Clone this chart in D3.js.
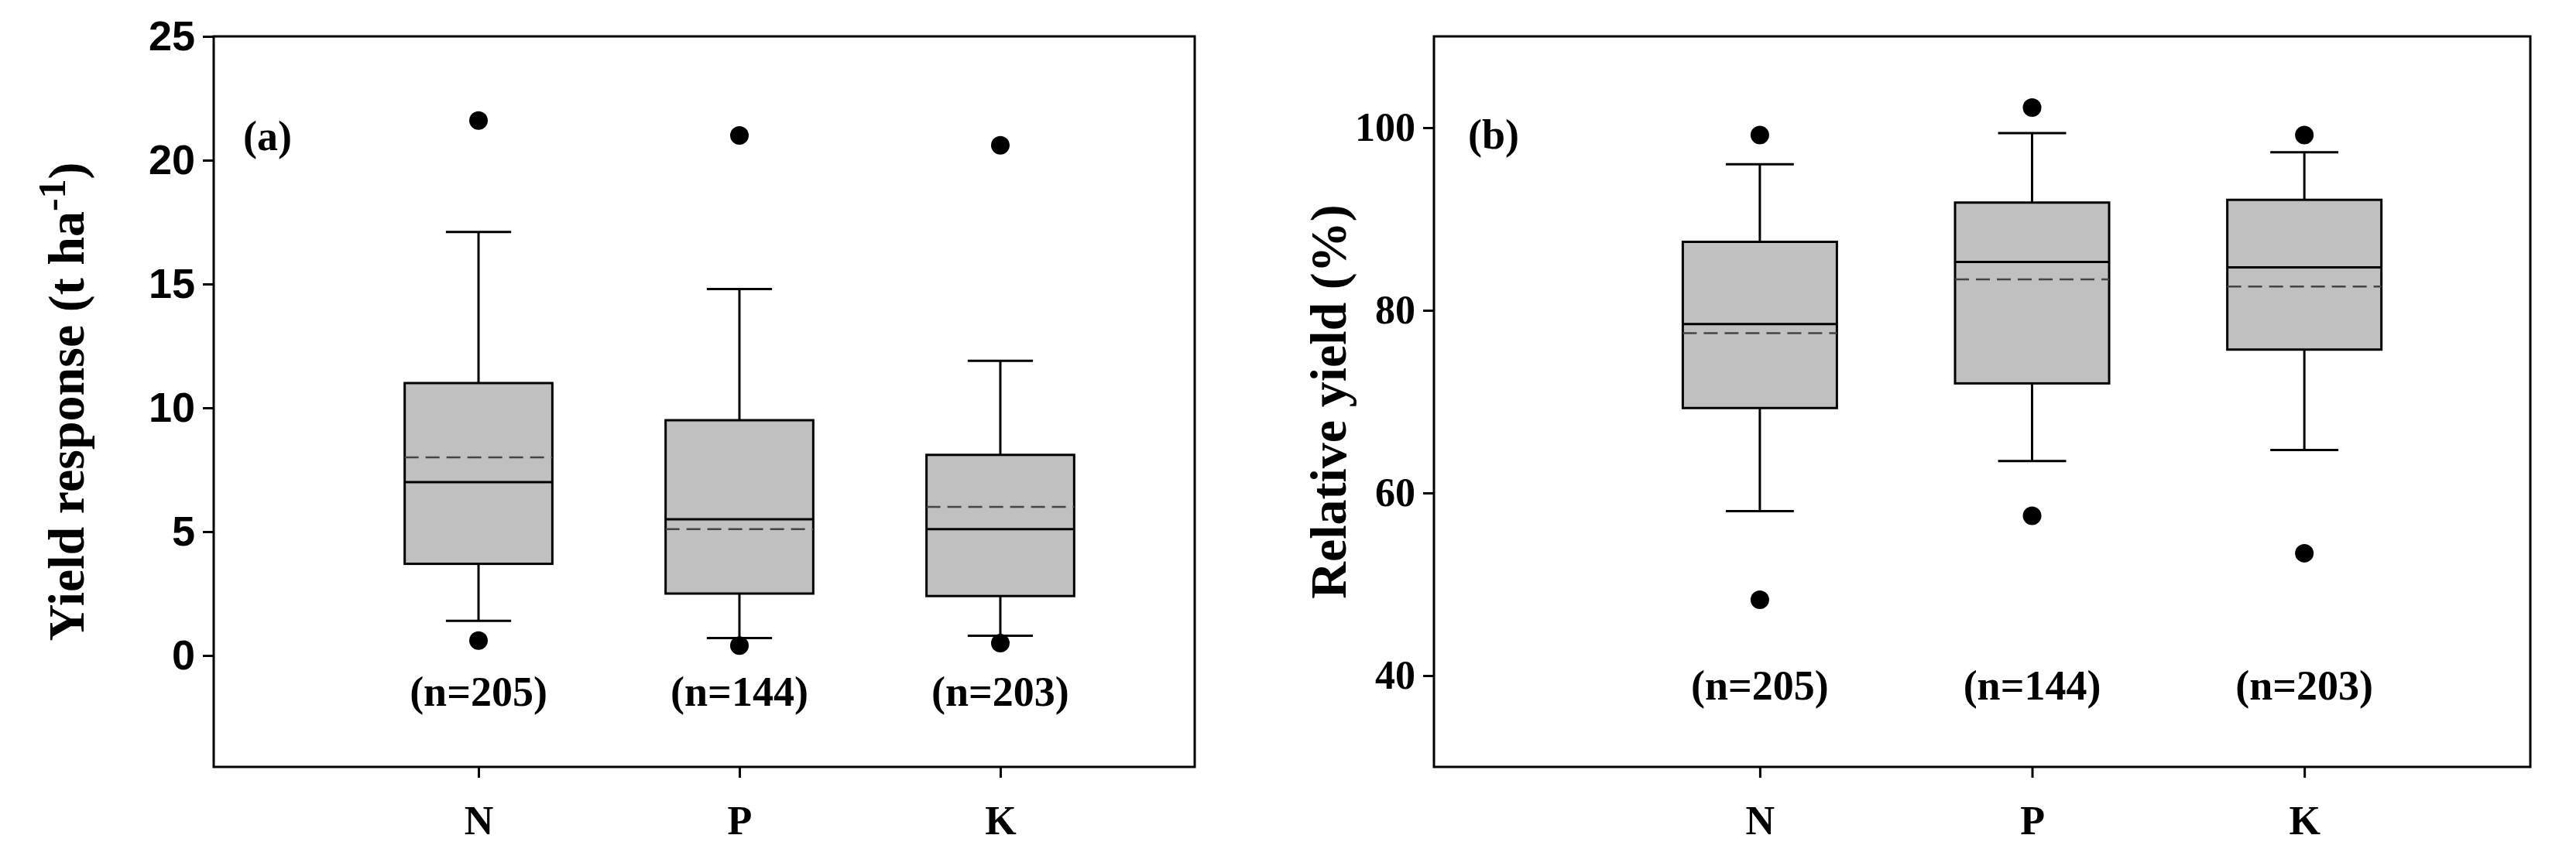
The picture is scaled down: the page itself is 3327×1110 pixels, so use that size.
<!DOCTYPE html><html><head><meta charset="utf-8">
<script src="https://cdn.jsdelivr.net/npm/d3@7"></script>
<style>body{margin:0;background:#fff}</style></head><body>
<svg id="c" width="3327" height="1110"></svg>
<script>
const categories=["N","P","K"];
const nLabels=["(n=205)","(n=144)","(n=203)"];
// panel a: yield response (t ha-1)
const aWhiskLow=[1.4,0.7,0.8], aQ1=[3.7,2.5,2.4], aMedian=[7.0,5.5,5.1], aMean=[8.0,5.1,6.0], aQ3=[11.0,9.5,8.1], aWhiskHigh=[17.1,14.8,11.9];
const aOutHigh=[21.6,21.0,20.6], aOutLow=[0.6,0.4,0.5];
const aTicks=[0,5,10,15,20,25];
// panel b: relative yield (%)
const bWhiskLow=[58,63.5,64.7], bQ1=[69.3,72,75.7], bMedian=[78.5,85.3,84.7], bMean=[77.5,83.4,82.6], bQ3=[87.5,91.8,92.1], bWhiskHigh=[96,99.4,97.3];
const bOutHigh=[99.2,102.2,99.2], bOutLow=[48.3,57.5,53.4];
const bTicks=[40,60,80,100];

const svg=d3.select("#c");
function panel(o){
  const x=d3.scaleLinear().domain(o.xd).range([o.x0,o.x1]);
  const y=d3.scaleLinear().domain(o.yd).range([991,47]);
  const g=svg.append("g");
  g.append("rect").attr("x",o.x0).attr("y",47).attr("width",o.x1-o.x0).attr("height",944).attr("fill","none").attr("stroke","#000").attr("stroke-width",3);
  const ya=g.append("g").attr("transform",`translate(${o.x0},0)`).call(d3.axisLeft(y).tickValues(o.ticks).tickSize(14).tickPadding(10));
  ya.select(".domain").remove();
  ya.selectAll("line").attr("stroke-width",3);
  ya.selectAll("text").attr("font-family",o.tf).attr("font-weight","bold").attr("font-size",o.tfs).attr("fill","#000");
  const xa=g.append("g").attr("transform","translate(0,991)").call(d3.axisBottom(x).tickValues([1,2,3]).tickFormat(i=>categories[i-1]).tickSize(14).tickPadding(36));
  xa.select(".domain").remove();
  xa.selectAll("line").attr("stroke-width",3);
  xa.selectAll("text").attr("font-family","Liberation Serif").attr("font-weight","bold").attr("font-size",52).attr("fill","#000");
  const d=o.d;
  categories.forEach((c,i)=>{
    const cx=x(i+1), hw=x(1.283)-x(1), cw=x(1.125)-x(1);
    g.append("line").attr("x1",cx).attr("x2",cx).attr("y1",y(d.q3[i])).attr("y2",y(d.wh[i])).attr("stroke","#000").attr("stroke-width",3);
    g.append("line").attr("x1",cx).attr("x2",cx).attr("y1",y(d.q1[i])).attr("y2",y(d.wl[i])).attr("stroke","#000").attr("stroke-width",3);
    [d.wh[i],d.wl[i]].forEach(v=>g.append("line").attr("x1",cx-cw).attr("x2",cx+cw).attr("y1",y(v)).attr("y2",y(v)).attr("stroke","#000").attr("stroke-width",3));
    g.append("rect").attr("x",cx-hw).attr("width",2*hw).attr("y",y(d.q3[i])).attr("height",y(d.q1[i])-y(d.q3[i])).attr("fill","#c0c0c0").attr("stroke","#000").attr("stroke-width",3);
    g.append("line").attr("x1",cx-hw).attr("x2",cx+hw).attr("y1",y(d.med[i])).attr("y2",y(d.med[i])).attr("stroke","#000").attr("stroke-width",3);
    g.append("line").attr("x1",cx-hw).attr("x2",cx+hw).attr("y1",y(d.mean[i])).attr("y2",y(d.mean[i])).attr("stroke","#444").attr("stroke-width",2.5).attr("stroke-dasharray","18,9");
    [d.oh[i],d.ol[i]].forEach(v=>g.append("circle").attr("cx",cx).attr("cy",y(v)).attr("r",12).attr("fill","#000"));
    g.append("text").attr("x",cx).attr("y",o.ny).attr("text-anchor","middle").attr("font-family","Liberation Serif").attr("font-weight","bold").attr("font-size",54).text(nLabels[i]);
  });
  g.append("text").attr("x",o.lx).attr("y",o.ly).attr("font-family","Liberation Serif").attr("font-weight","bold").attr("font-size",54).text(o.label);
  const t=g.append("text").attr("transform",`translate(${o.tx},519) rotate(-90)`).attr("text-anchor","middle").attr("font-family","Liberation Serif").attr("font-weight","bold").attr("font-size",66);
  o.title(t);
}
panel({x0:276,x1:1543,xd:[-0.015,3.745],yd:[-4.5,25],ticks:aTicks,tf:"Liberation Sans",tfs:54,ny:912,lx:314,ly:194,label:"(a)",tx:108,
  d:{wl:aWhiskLow,q1:aQ1,med:aMedian,mean:aMean,q3:aQ3,wh:aWhiskHigh,oh:aOutHigh,ol:aOutLow},
  title:t=>{t.append("tspan").text("Yield response (t ha");t.append("tspan").attr("dy",-24).attr("font-size",50).text("-1");t.append("tspan").attr("dy",24).text(")");}});
panel({x0:1852,x1:3268,xd:[-0.197,3.83],yd:[30,110],ticks:bTicks,tf:"Liberation Serif",tfs:52,ny:904,lx:1896,ly:192,label:"(b)",tx:1738,
  d:{wl:bWhiskLow,q1:bQ1,med:bMedian,mean:bMean,q3:bQ3,wh:bWhiskHigh,oh:bOutHigh,ol:bOutLow},
  title:t=>t.text("Relative yield (%)")});
</script></body></html>
